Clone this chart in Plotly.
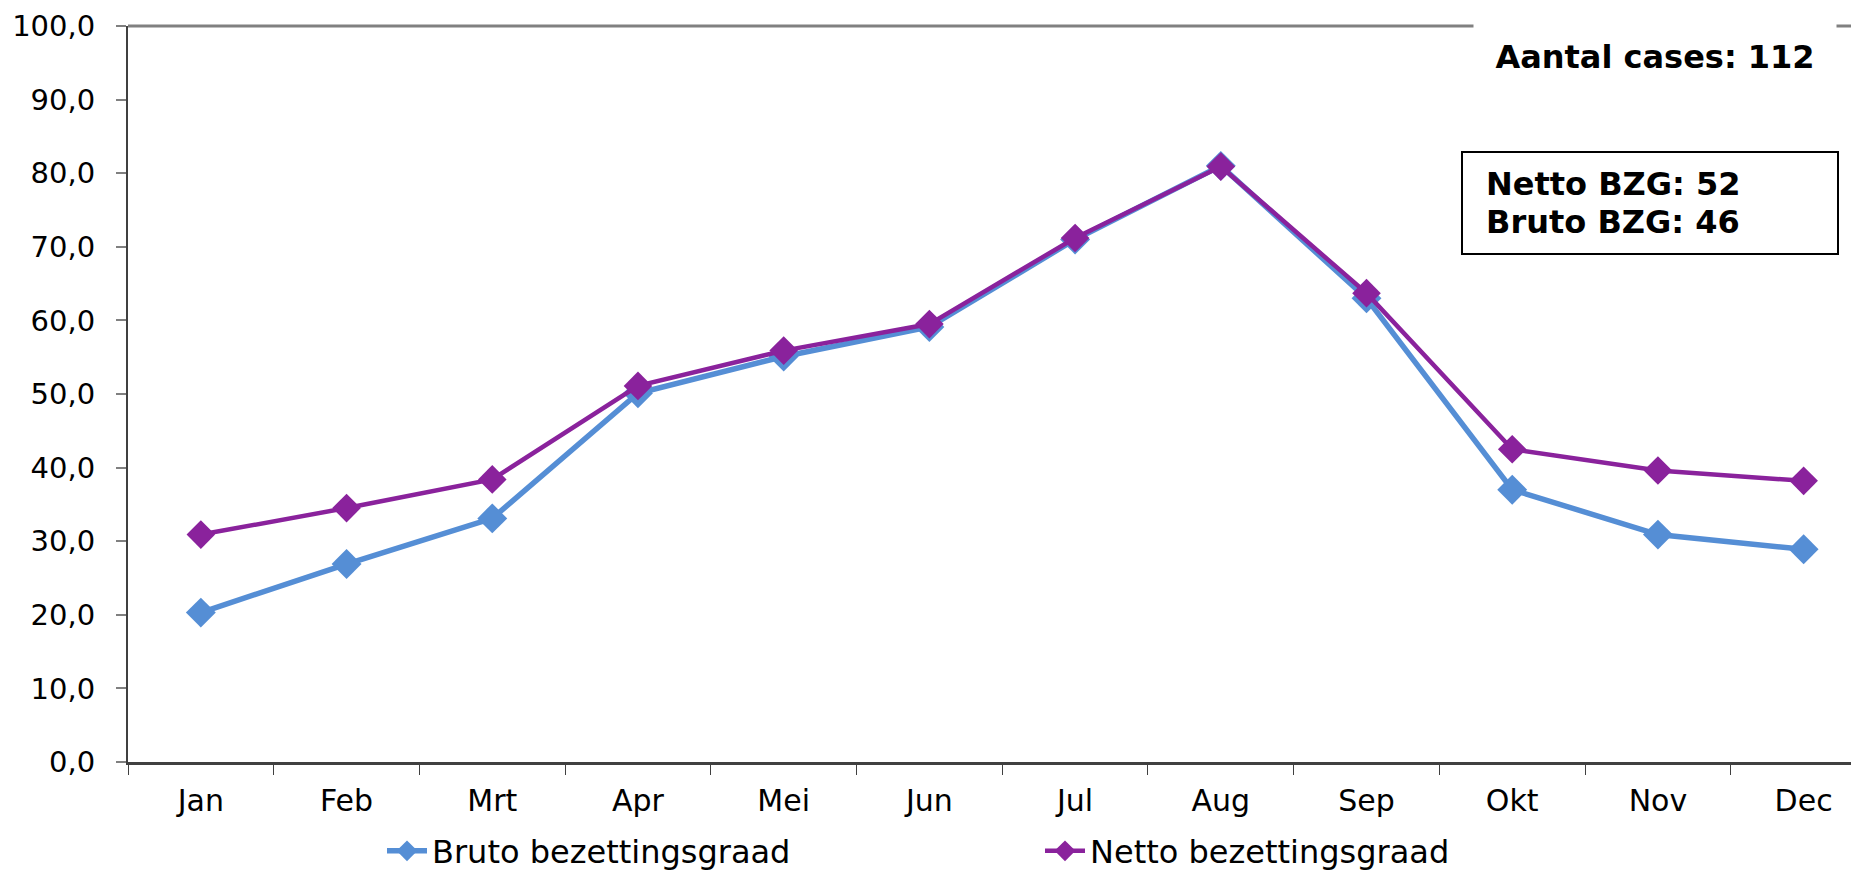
import plotly.graph_objects as go

months = ["Jan", "Feb", "Mrt", "Apr", "Mei", "Jun", "Jul", "Aug", "Sep", "Okt", "Nov", "Dec"]
bruto = [20.3, 26.9, 33.1, 50.1, 55.1, 59.1, 71.0, 81.0, 63.0, 37.0, 30.9, 28.9]
netto = [30.9, 34.5, 38.4, 51.1, 55.9, 59.5, 71.2, 80.9, 63.7, 42.5, 39.6, 38.2]
y_ticks = [0, 10, 20, 30, 40, 50, 60, 70, 80, 90, 100]
y_tick_text = ["0,0", "10,0", "20,0", "30,0", "40,0", "50,0", "60,0", "70,0", "80,0", "90,0", "100,0"]

BLUE = "#558ed5"
PURPLE = "#8a229c"
FONT = "Verdana, DejaVu Sans, sans-serif"

# page body has an 8px margin, so the figure is drawn 8px in from the top-left
OFF = 8
SW, SH = 1859, 871          # screen size
PL, PT, PB = 128, 26, 762   # plot area on screen (left, top, bottom)
W, H = SW - OFF, SH - OFF
ML, MT, MR = PL - OFF, PT - OFF, 0
MB = H - (PB - OFF)
PW = W - ML - MR
PH = H - MT - MB

def px(x):
    return (x - PL) / PW

def py(y):
    return (PB - y) / PH

fig = go.Figure()
fig.add_trace(go.Scatter(
    x=months, y=bruto, name="Bruto bezettingsgraad", mode="lines+markers",
    line=dict(color=BLUE, width=5.5),
    marker=dict(symbol="diamond", size=23, color=BLUE),
))
fig.add_trace(go.Scatter(
    x=months, y=netto, name="Netto bezettingsgraad", mode="lines+markers",
    line=dict(color=PURPLE, width=4.5),
    marker=dict(symbol="diamond", size=22, color=PURPLE),
))

fig.update_layout(
    width=W, height=H,
    margin=dict(l=ML, r=MR, t=MT, b=MB, pad=0, autoexpand=False),
    paper_bgcolor="white", plot_bgcolor="white",
    font=dict(family=FONT, size=30, color="black"),
    showlegend=True,
    legend=dict(orientation="h", x=px(382), xanchor="left", y=py(851), yanchor="middle",
                font=dict(size=32), entrywidth=603, entrywidthmode="pixels",
                bgcolor="rgba(0,0,0,0)", itemwidth=40),
    xaxis=dict(type="category", range=[-0.5, 11.38], showgrid=False, zeroline=False,
               automargin=False,
               showline=True, linecolor="#404040", linewidth=3,
               ticks="outside", ticklen=10, tickwidth=1, tickcolor="#404040",
               tickson="boundaries", tickfont=dict(size=30), ticklabelstandoff=10),
    yaxis=dict(range=[0, 100], tickvals=y_ticks, ticktext=y_tick_text, showgrid=False,
               automargin=False,
               zeroline=False, showline=True, linecolor="#404040", linewidth=2,
               ticks="outside", ticklen=10, tickwidth=2, tickcolor="#808080",
               tickfont=dict(size=29), ticklabelstandoff=15),
    shapes=[
        dict(type="line", xref="paper", yref="paper", x0=0, x1=1, y0=1, y1=1,
             line=dict(color="#808080", width=3)),
        dict(type="rect", xref="paper", yref="paper", x0=px(1462), x1=px(1838),
             y0=py(254), y1=py(152), line=dict(color="black", width=2), fillcolor="white",
             layer="above"),
    ],
    annotations=[
        dict(text="<b>Aantal cases: 112</b>", xref="paper", yref="paper",
             x=px(1655), y=py(57), xanchor="center", yanchor="middle", showarrow=False,
             width=360, height=70, bgcolor="white", font=dict(size=32)),
        dict(text="<b>Netto BZG: 52</b>", xref="paper", yref="paper",
             x=px(1484), y=py(184), xanchor="left", yanchor="middle", showarrow=False,
             align="left", font=dict(size=32)),
        dict(text="<b>Bruto BZG: 46</b>", xref="paper", yref="paper",
             x=px(1484), y=py(222), xanchor="left", yanchor="middle", showarrow=False,
             align="left", font=dict(size=32)),
    ],
)

fig.write_html("out.html")
